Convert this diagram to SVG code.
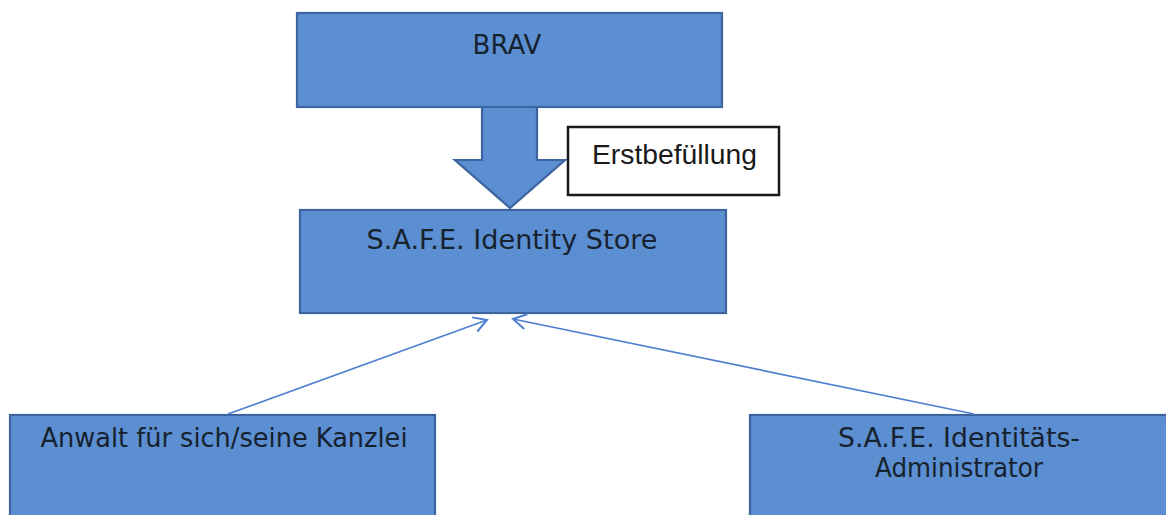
<svg xmlns="http://www.w3.org/2000/svg" width="1166" height="515" viewBox="0 0 1166 515">
  <style>
    .box { fill: #5c8ed2; stroke: #3e64a0; stroke-width: 2.2; }
    .label { font-family: "DejaVu Sans", Verdana, sans-serif; font-size: 26px; fill: #17222f; text-anchor: middle; }
    .note { fill: #ffffff; stroke: #1a1a1a; stroke-width: 2.5; }
    .note-text { font-family: "Liberation Sans", Arial, sans-serif; font-size: 28px; fill: #1a1a1a; }
    .link { fill: none; stroke: #4f7fd0; stroke-width: 1.7; }
  </style>
  <defs>
    <marker id="open-arrow" markerWidth="18" markerHeight="18" refX="15" refY="9" orient="auto" markerUnits="userSpaceOnUse">
      <path d="M2,1.5 L15,9 L2,16.5" fill="none" stroke="#4f7fd0" stroke-width="2"/>
    </marker>
  </defs>

  <rect width="1166" height="515" fill="#ffffff"/>

  <!-- top source -->
  <g id="node-brav">
    <rect class="box" x="297" y="13" width="425" height="94"/>
    <text class="label" x="507" y="54">BRAV</text>
  </g>

  <!-- initial load: block arrow with caption -->
  <g id="node-erstbefuellung-arrow">
    <path class="box" d="M482,107 L537,107 L537,160 L565,160 L510,208 L455,160 L482,160 Z" stroke-width="1.5"/>
  </g>
  <g id="node-erstbefuellung">
    <rect class="note" x="568" y="127" width="211" height="68"/>
    <text class="note-text" x="592" y="164" textLength="165" lengthAdjust="spacingAndGlyphs">Erstbefüllung</text>
  </g>

  <!-- central store -->
  <g id="node-identity-store">
    <rect class="box" x="300" y="210" width="426" height="103"/>
    <text class="label" x="512" y="249" textLength="291" lengthAdjust="spacingAndGlyphs">S.A.F.E. Identity Store</text>
  </g>

  <!-- bottom actors -->
  <g id="node-anwalt">
    <rect class="box" x="10" y="415" width="425" height="110"/>
    <text class="label" x="224" y="447" textLength="367" lengthAdjust="spacingAndGlyphs">Anwalt für sich/seine Kanzlei</text>
  </g>
  <g id="node-administrator">
    <rect class="box" x="750" y="415" width="430" height="110"/>
    <text class="label" x="959" y="447" textLength="242" lengthAdjust="spacingAndGlyphs">S.A.F.E. Identitäts-</text>
    <text class="label" x="959" y="477" textLength="168" lengthAdjust="spacingAndGlyphs">Administrator</text>
  </g>

  <!-- connectors -->
  <g id="connectors">
    <line class="link" x1="228" y1="414" x2="487" y2="320" marker-end="url(#open-arrow)"/>
    <line class="link" x1="974" y1="414" x2="513" y2="319" marker-end="url(#open-arrow)"/>
  </g>
</svg>
